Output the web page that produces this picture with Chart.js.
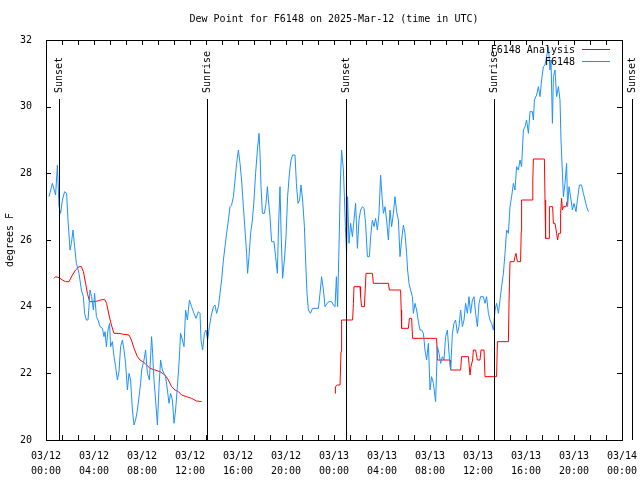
<!DOCTYPE html>
<html>
<head>
<meta charset="utf-8">
<script src="https://cdn.jsdelivr.net/npm/chart.js@4.4.1/dist/chart.umd.min.js"></script>
<style>
  html, body { margin: 0; padding: 0; background: #fff; }
</style>
</head>
<body>
<canvas id="dewChart" width="640" height="480"></canvas>
<script>
// minutes since 03/12 00:00 UTC
const blueMinutes = [
  15, 32, 48, 57, 65, 73, 82, 93, 103, 110,
  120, 127, 135, 143, 152, 165, 177, 187, 193, 202,
  210, 215, 220, 228, 237, 243, 252, 260, 270, 282,
  290, 295, 302, 310, 318, 323, 332, 340, 348, 357,
  365, 373, 382, 390, 398, 407, 415, 423, 432, 440,
  448, 457, 465, 473, 478, 490, 498, 507, 517, 528,
  533, 540, 548, 557, 565, 573, 582, 590, 598, 607,
  615, 623, 632, 640, 648, 657, 665, 673, 682, 690,
  698, 707, 717, 728, 740, 750, 762, 770, 775, 783,
  792, 800, 808, 817, 825, 837, 845, 853, 862, 870,
  878, 887, 895, 903, 912, 920, 928, 937, 945, 953,
  962, 970, 978, 987, 995, 1003, 1008, 1015, 1023, 1032,
  1040, 1048, 1057, 1065, 1070, 1075, 1082, 1092, 1100, 1107,
  1112, 1120, 1128, 1140, 1148, 1157, 1162, 1170, 1175, 1183,
  1192, 1200, 1208, 1217, 1225, 1233, 1245, 1252, 1260, 1268,
  1275, 1283, 1292, 1298, 1305, 1312, 1322, 1333, 1362, 1370,
  1378, 1387, 1395, 1405, 1415, 1428, 1437, 1445, 1452, 1458,
  1465, 1472, 1478, 1487, 1492, 1497, 1503, 1508, 1515, 1523,
  1532, 1540, 1548, 1557, 1565, 1573, 1582, 1590, 1598, 1607,
  1617, 1623, 1632, 1640, 1648, 1657, 1665, 1673, 1680, 1687,
  1695, 1703, 1712, 1720, 1728, 1737, 1745, 1753, 1762, 1770,
  1778, 1787, 1795, 1803, 1808, 1815, 1823, 1832, 1837, 1845,
  1853, 1862, 1870, 1878, 1887, 1895, 1903, 1912, 1920, 1928,
  1937, 1948, 1957, 1965, 1973, 1982, 1990, 1998, 2007, 2015,
  2023, 2032, 2040, 2048, 2057, 2065, 2073, 2082, 2090, 2098,
  2107, 2115, 2123, 2132, 2140, 2148, 2157, 2165, 2173, 2187,
  2195, 2203, 2212, 2220, 2228, 2237, 2245, 2253, 2262, 2270,
  2278, 2287, 2295, 2303, 2312, 2320, 2328, 2337, 2345, 2353,
  2362, 2370, 2378, 2387, 2395, 2403, 2412, 2420, 2432, 2437,
  2442, 2453, 2462, 2470, 2478, 2487, 2495, 2503, 2512, 2520,
  2525, 2532, 2537, 2545, 2553, 2562, 2570, 2575, 2582, 2587,
  2595, 2603, 2608, 2615, 2623, 2632, 2640, 2650, 2657, 2667,
  2678, 2687, 2695, 2703, 2712
];
const blueDew = [
  27.3, 27.7, 27.35, 28.25, 27.0, 26.8, 27.2, 27.45, 27.4, 26.6,
  25.7, 25.9, 26.3, 25.8, 25.3, 25.0, 24.5, 24.3, 23.8, 23.6,
  23.6, 24.0, 24.5, 24.3, 23.9, 24.4, 23.7, 23.6, 23.4, 23.35,
  23.1, 23.25, 22.8, 23.3, 23.5, 22.8, 22.95, 22.5, 22.2, 21.8,
  22.05, 22.8, 23.0, 22.7, 22.3, 21.5, 22.0, 21.8, 20.9, 20.45,
  20.6, 20.9, 21.3, 21.7, 22.1, 22.4, 22.7, 22.0, 21.8, 23.1,
  22.6, 21.8, 21.2, 20.45, 21.6, 22.4, 22.1, 22.0, 21.9, 21.5,
  21.1, 21.4, 21.2, 20.5, 20.9, 21.6, 22.3, 23.2, 23.0, 22.8,
  23.9, 23.6, 24.2, 24.0, 23.8, 23.65, 23.85, 23.8, 23.0, 22.7,
  23.2, 23.3, 23.0, 23.4, 23.7, 24.0, 24.05, 23.8, 24.0, 24.4,
  24.8, 25.4, 25.8, 26.2, 26.6, 27.0, 27.05, 27.3, 27.8, 28.3,
  28.7, 28.3, 27.8, 27.0, 26.3, 25.6, 25.0, 25.5, 26.2, 26.6,
  27.2, 28.0, 28.7, 29.2, 28.6, 27.6, 26.8, 26.8, 27.1, 27.6,
  27.2, 26.7, 25.95, 25.95, 25.5, 25.0, 26.3, 27.6, 26.3, 24.85,
  25.4, 26.1, 27.3, 28.0, 28.4, 28.55, 28.55, 27.7, 27.1, 27.2,
  27.65, 27.2, 26.4, 25.4, 24.4, 23.9, 23.8, 23.95, 23.95, 24.4,
  24.9, 24.5, 24.0, 24.1, 24.15, 24.15, 24.05, 24.0, 24.9, 24.0,
  25.8, 27.8, 28.7, 28.1, 27.3, 26.4, 25.6, 27.3, 25.9, 26.5,
  26.1, 26.6, 27.1, 25.75, 26.6, 26.9, 27.0, 26.95, 26.5, 25.5,
  25.5, 26.1, 26.6, 26.4, 26.65, 26.3, 26.8, 27.95, 27.3, 26.8,
  27.0, 26.6, 26.0, 26.9, 26.4, 26.8, 27.3, 26.85, 26.6, 25.5,
  26.0, 26.45, 26.2, 25.6, 25.1, 24.7, 24.5, 24.3, 23.8, 24.1,
  23.9, 23.55, 23.3, 23.3, 23.2, 22.7, 22.4, 22.9, 21.5, 21.9,
  21.7, 21.15, 22.8, 22.6, 22.3, 22.5, 22.4, 23.1, 23.3, 22.6,
  22.1, 23.2, 23.5, 23.6, 23.2, 23.4, 23.9, 23.4, 23.6, 24.1,
  23.8, 24.3, 23.8, 24.2, 24.3, 23.8, 23.4, 24.1, 24.3, 24.3,
  24.1, 24.3, 23.8, 23.6, 23.5, 23.3, 23.9, 24.1, 23.8, 24.2,
  24.6, 25.0, 25.6, 26.3, 26.2, 27.0, 27.3, 27.7, 27.5, 28.2,
  28.1, 28.4, 28.2, 29.3, 29.4, 29.6, 29.2, 29.85, 29.85, 29.6,
  30.2, 30.35, 30.6, 30.3, 30.8, 31.2, 31.25, 31.5, 31.8, 31.1,
  31.4, 29.5, 30.9, 31.1, 30.3, 30.6, 30.2, 29.0, 28.0, 27.3,
  27.7, 28.3, 27.0, 27.6, 27.3, 26.9, 27.1, 26.85, 27.2, 27.65,
  27.65, 27.4, 27.2, 27.0, 26.85
];

const analysisMinutes = [
  40, 48, 65, 82, 98, 115, 132, 148, 165, 177,
  187, 198, 207, 218, 240, 257, 273, 293, 303, 315,
  327, 340, 365, 390, 415, 427, 440, 457, 470, 495,
  520, 545, 570, 595, 612, 628, 645, 662, 678, 703,
  728, 753, 778, 1100,
  1445, 1447, 1457, 1470, 1475, 1478, 1533, 1537, 1540, 1570,
  1573, 1578, 1592, 1596, 1600, 1632, 1637, 1712, 1717, 1773,
  1776, 1778, 1812, 1817, 1828, 1833, 1953, 1957, 2020, 2023,
  2073, 2078, 2112, 2120, 2125, 2133, 2137, 2148, 2157, 2170,
  2175, 2190, 2195, 2253, 2257, 2312, 2315, 2320, 2340, 2345,
  2350, 2357, 2373, 2376, 2378, 2432, 2434, 2437, 2492, 2495,
  2498, 2515, 2517, 2533, 2537, 2545, 2553, 2558, 2563, 2570,
  2573, 2578, 2582, 2587, 2600, 2605
];
const analysisDew = [
  24.85, 24.9, 24.87, 24.8, 24.75, 24.75, 24.95, 25.1, 25.2, 25.2,
  25.05, 24.7, 24.4, 24.15, 24.15, 24.17, 24.2, 24.22, 24.1, 23.75,
  23.45, 23.2, 23.2, 23.17, 23.15, 23.0, 22.75, 22.5, 22.4, 22.3,
  22.15, 22.1, 22.05, 21.95, 21.8, 21.6, 21.5, 21.45, 21.35, 21.3,
  21.25, 21.17, 21.15, null,
  21.4, 21.6, 21.65, 21.65, 22.65, 23.6, 23.6, 24.1, 24.6, 24.6,
  24.3, 24.0, 24.0, 24.5, 25.0, 25.0, 24.7, 24.7, 24.5, 24.5,
  23.9, 23.35, 23.35, 23.65, 23.65, 23.05, 23.05, 22.4, 22.4, 22.1,
  22.1, 22.5, 22.5, 21.95, 22.2, 22.4, 22.7, 22.7, 22.4, 22.4,
  22.7, 22.7, 21.9, 21.9, 22.95, 22.95, 24.1, 25.35, 25.35, 25.5,
  25.6, 25.35, 25.35, 26.25, 27.2, 27.2, 27.8, 28.43, 28.43, 27.2,
  26.05, 26.05, 27.0, 27.0, 26.5, 26.5, 26.2, 26.0, 26.2, 26.2,
  26.8, 27.25, 26.9, 27.0, 27.0, 27.15
];

const tickDates = ['03/12', '03/12', '03/12', '03/12', '03/12', '03/12',
  '03/13', '03/13', '03/13', '03/13', '03/13', '03/13', '03/14'];
const tickTimes = ['00:00', '04:00', '08:00', '12:00', '16:00', '20:00',
  '00:00', '04:00', '08:00', '12:00', '16:00', '20:00', '00:00'];

const sunMinutes = [67, 807, 1500, 2242, 2930];
const sunLabels = ['Sunset', 'Sunrise', 'Sunset', 'Sunrise', 'Sunset'];

const chartTitle = 'Dew Point for F6148 on 2025-Mar-12 (time in UTC)';
const FONT = '"DejaVu Sans Mono", "Liberation Mono", monospace';

// gnuplot-like frame, inward ticks, sun lines, title and key
const framePlugin = {
  id: 'frame',
  afterDraw(chart) {
    const ctx = chart.ctx;
    const area = chart.chartArea;
    const xs = chart.scales.x;
    const ys = chart.scales.y;
    ctx.save();
    ctx.strokeStyle = '#000';
    ctx.lineWidth = 1;
    ctx.strokeRect(area.left + 0.5, area.top + 0.5, area.right - area.left, area.bottom - area.top);

    ctx.beginPath();
    for (let m = 0; m <= 2880; m += 80) {
      const px = Math.round(xs.getPixelForValue(m)) + 0.5;
      ctx.moveTo(px, area.bottom);
      ctx.lineTo(px, area.bottom - 5);
      ctx.moveTo(px, area.top);
      ctx.lineTo(px, area.top + 5);
    }
    for (let v = 20; v <= 32; v += 2) {
      const py = Math.round(ys.getPixelForValue(v)) + 0.5;
      ctx.moveTo(area.left, py);
      ctx.lineTo(area.left + 5, py);
      ctx.moveTo(area.right, py);
      ctx.lineTo(area.right - 5, py);
    }
    ctx.stroke();

    // sunrise / sunset markers
    ctx.font = '10px ' + FONT;
    ctx.fillStyle = '#000';
    sunMinutes.forEach((m, i) => {
      const px = Math.round(xs.getPixelForValue(m)) + 0.5;
      ctx.beginPath();
      ctx.moveTo(px, 99);
      ctx.lineTo(px, area.bottom);
      ctx.stroke();
      ctx.save();
      ctx.translate(px, 93);
      ctx.rotate(-Math.PI / 2);
      ctx.textAlign = 'left';
      ctx.textBaseline = 'middle';
      ctx.fillText(sunLabels[i], 0, 0);
      ctx.restore();
    });

    // title
    ctx.textAlign = 'center';
    ctx.textBaseline = 'middle';
    ctx.fillText(chartTitle, (area.left + area.right) / 2, 19);

    // key
    chart.data.datasets.forEach((ds, i) => {
      const y = 50 + i * 12;
      ctx.textAlign = 'right';
      ctx.fillStyle = '#000';
      ctx.fillText(ds.label, area.right - 47, y);
      ctx.strokeStyle = ds.borderColor;
      ctx.beginPath();
      ctx.moveTo(area.right - 40, y - 0.5);
      ctx.lineTo(area.right - 12, y - 0.5);
      ctx.stroke();
    });
    ctx.restore();
  }
};

const ctx = document.getElementById('dewChart').getContext('2d');
new Chart(ctx, {
  type: 'line',
  data: {
    datasets: [{
      label: 'F6148 Analysis',
      data: analysisMinutes.map((m, i) => ({ x: m, y: analysisDew[i] })),
      borderColor: '#ff0000',
      borderWidth: 1,
      pointRadius: 0,
      spanGaps: false,
      order: 2
    }, {
      label: 'F6148',
      data: blueMinutes.map((m, i) => ({ x: m, y: blueDew[i] })),
      borderColor: '#1e90ff',
      borderWidth: 1,
      pointRadius: 0,
      order: 1
    }]
  },
  options: {
    responsive: false,
    animation: false,
    devicePixelRatio: 1,
    layout: { padding: { top: 40, right: 18, left: 0, bottom: 0 } },
    plugins: {
      legend: { display: false },
      title: { display: false },
      tooltip: { enabled: false }
    },
    scales: {
      x: {
        type: 'linear',
        min: 0,
        max: 2880,
        grid: { display: false },
        border: { display: false },
        ticks: {
          stepSize: 240,
          autoSkip: false,
          maxRotation: 0,
          padding: 1,
          color: '#000',
          font: { family: FONT, size: 10, lineHeight: 1.5 },
          callback: (v) => {
            const i = Math.round(v / 240);
            return [tickDates[i], tickTimes[i]];
          }
        },
        afterFit: (s) => {
          s.height = 40;
          s.paddingLeft = 0;
          s.paddingRight = 0;
        }
      },
      y: {
        min: 20,
        max: 32,
        grid: { display: false },
        border: { display: false },
        ticks: {
          stepSize: 2,
          padding: 6,
          color: '#000',
          font: { family: FONT, size: 10 }
        },
        title: {
          display: true,
          text: 'degrees F',
          color: '#000',
          padding: { top: 4, bottom: 0 },
          font: { family: FONT, size: 10 }
        },
        afterFit: (s) => { s.width = 46; }
      }
    }
  },
  plugins: [framePlugin]
});
</script>
</body>
</html>
